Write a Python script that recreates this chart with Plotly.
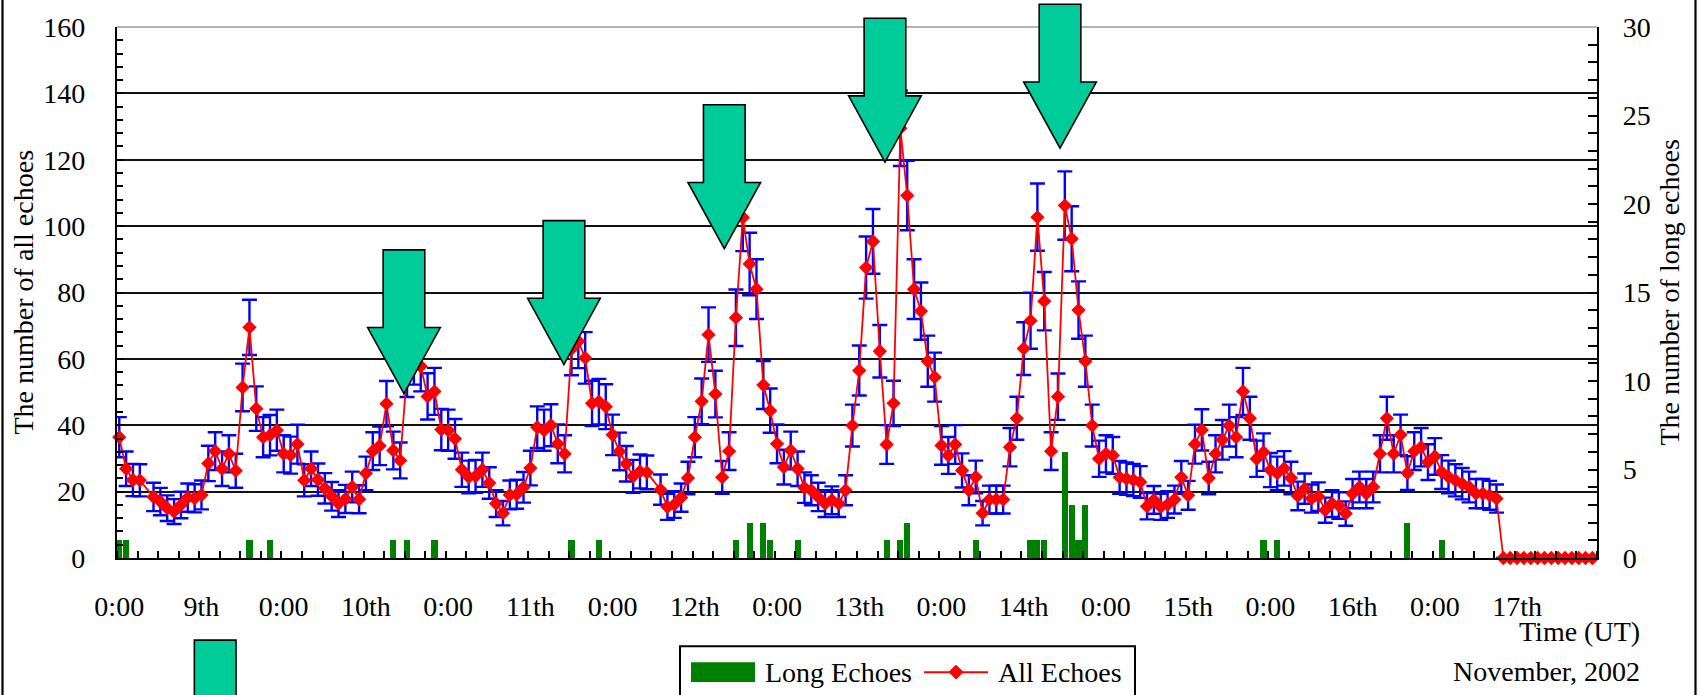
import numpy as np
import plotly.graph_objects as go

# ---------------- data (hourly, UT, November 2002) ----------------
day_names = ["9th", "10th", "11th", "12th", "13th", "14th", "15th", "16th", "17th"]

# number of all echoes per hour (None = no marker plotted)
nov09 = [36.4, 26.9, 23.5, 23.4, None, 18.4, 17.0, 15.0, 14.0, 16.0, 18.2, 18.0,
         19.0, 28.5, 32.2, 26.9, 31.4, 26.3, 51.4, 69.5, 45.0, 36.4, 37.0, 38.5]
nov10 = [31.4, 31.0, 34.3, 23.4, 26.9, 23.6, 21.0, 18.6, 16.4, 17.8, 21.4, 17.7,
         25.5, 32.2, 33.8, 46.5, 32.4, 29.4, 56.0, 60.0, 57.8, 48.7, 50.2, 38.7]
nov11 = [38.5, 35.9, 26.6, 24.4, 24.6, 26.6, 22.6, 16.4, 13.5, 19.0, 19.2, 21.3,
         27.1, 39.4, 38.5, 40.0, 34.4, 31.4, 63.0, 65.3, 60.3, 46.6, 47.1, 45.6]
nov12 = [37.1, 32.1, 28.4, 24.6, 26.1, 25.8, None, 20.6, 15.4, 16.1, 18.2, 24.1,
         36.4, 47.2, 67.3, 49.4, 24.3, 32.2, 72.4, 102.6, 88.6, 81.0, 52.1, 44.4]
nov13 = [34.4, 27.4, 32.4, 26.9, 21.2, 20.4, 18.4, 16.4, 17.4, 16.4, 20.4, 39.9,
         56.5, 87.5, 95.4, 62.3, 34.2, 46.6, 129.5, 109.2, 81.0, 74.4, 59.3, 54.5]
nov14 = [33.9, 30.9, 34.2, 26.4, 20.4, 24.4, 13.5, 17.6, 17.6, 17.6, 33.4, 42.1,
         63.1, 71.5, 102.7, 77.4, 32.2, 48.6, 106.2, 96.2, 74.7, 59.3, 39.9, 29.9]
nov15 = [31.4, 30.9, 24.3, 23.9, 23.5, 22.9, 15.6, 17.5, 15.4, 16.1, 17.6, 24.3,
         18.9, 34.3, 38.6, 24.1, 31.4, 35.6, 39.9, 36.4, 50.2, 42.1, 29.9, 31.9]
nov16 = [26.5, 25.5, 27.0, 24.1, 18.7, 20.9, 17.9, 18.5, 14.4, 16.4, 15.8, 13.4,
         19.4, 21.4, 19.4, 21.4, 31.4, 42.1, 31.4, 37.1, 25.6, 32.2, 33.4, 28.9]
nov17 = [30.6, 25.9, 24.4, 23.4, 22.4, 21.4, 19.4, 19.4, 18.9, 17.9, 0, 0,
         0, 0, 0, 0, 0, 0, 0, 0, 0, 0, 0, 0]

# number of long echoes per hour
long09 = [1, 1, 0, 0, 0, 0, 0, 0, 0, 0, 0, 0, 0, 0, 0, 0, 0, 0, 0, 1, 0, 0, 1, 0]
long10 = [0, 0, 0, 0, 0, 0, 0, 0, 0, 0, 0, 0, 0, 0, 0, 0, 1, 0, 1, 0, 0, 0, 1, 0]
long11 = [0, 0, 0, 0, 0, 0, 0, 0, 0, 0, 0, 0, 0, 0, 0, 0, 0, 0, 1, 0, 0, 0, 1, 0]
long12 = [0, 0, 0, 0, 0, 0, 0, 0, 0, 0, 0, 0, 0, 0, 0, 0, 0, 0, 1, 0, 2, 0, 2, 1]
long13 = [0, 0, 0, 1, 0, 0, 0, 0, 0, 0, 0, 0, 0, 0, 0, 0, 1, 0, 1, 2, 0, 0, 0, 0]
long14 = [0, 0, 0, 0, 0, 1, 0, 0, 0, 0, 0, 0, 0, 1, 1, 1, 0, 0, 6, 3, 1, 3, 0, 0]
long15 = [0, 0, 0, 0, 0, 0, 0, 0, 0, 0, 0, 0, 0, 0, 0, 0, 0, 0, 0, 0, 0, 0, 0, 1]
long16 = [0, 1, 0, 0, 0, 0, 0, 0, 0, 0, 0, 0, 0, 0, 0, 0, 0, 0, 0, 0, 2, 0, 0, 0]
long17 = [0, 1, 0, 0, 0, 0, 0, 0, 0, 0, 0, 0, 0, 0, 0, 0, 0, 0, 0, 0, 0, 0, 0, 0]

all_echoes = nov09 + nov10 + nov11 + nov12 + nov13 + nov14 + nov15 + nov16 + nov17
long_echoes = long09 + long10 + long11 + long12 + long13 + long14 + long15 + long16 + long17
hours = list(range(len(all_echoes)))
# Poisson counting error of each hourly count
err = [None if v is None else float(np.sqrt(v)) for v in all_echoes]

tick_hours = list(range(0, 216, 12))
tick_text = []
for d in day_names:
    tick_text += ["0:00", d]

# arrows: tip position (hour, number of all echoes)
arrow_tips = [(41.55, 49.5), (64.9, 58.3), (88.3, 93.2), (111.75, 119.3), (137.3, 123.5), (14.0, -68.1)]

# ---------------- layout geometry ----------------
W, H = 1700, 695
ML, MR, MT, MB = 117, 103, 23, 137
PW, PH = W - ML - MR, H - MT - MB
X0, X1 = -0.33, 215.67
YMAX, Y2MAX = 160, 30

def px2paper_x(px):
    return (px - ML) / PW

def px2paper_y(py):
    return (H - MB - py) / PH

def data2paper(h, v):
    return (h - X0) / (X1 - X0), v / YMAX

FONT = "Liberation Serif, Times New Roman, serif"
FS = 28
ARROW_FILL = "#00CC99"

fig = go.Figure()

fig.add_trace(go.Bar(
    x=hours, y=long_echoes, yaxis="y2", name="Long Echoes",
    marker=dict(color="#008000", line=dict(width=0)), width=0.9,
    showlegend=False,
))

fig.add_trace(go.Scatter(
    x=hours, y=all_echoes, name="All Echoes", mode="lines+markers",
    line=dict(color="#FF0000", width=1.8),
    marker=dict(symbol="diamond", size=11, color="#FF0000"),
    error_y=dict(type="data", array=err, visible=True, color="#0000FF", thickness=2.4, width=7.5),
    connectgaps=True, cliponaxis=False, showlegend=False,
))

shapes = []
# top border of the plot area (light grey)
shapes.append(dict(type="line", xref="paper", yref="paper", x0=0, x1=1, y0=1, y1=1,
                   line=dict(color="#9a9a9a", width=1.5), layer="below"))

# arrows (in paper coords derived from data units)
HEAD_HALF, SHAFT_HALF, HEAD_H, SHAFT_L = 5.3, 3.04, 19.95, 23.4
for (h, v) in arrow_tips:
    xt, yt = data2paper(h, v)
    xhh = HEAD_HALF / (X1 - X0)
    xsh = SHAFT_HALF / (X1 - X0)
    yb = yt + HEAD_H / YMAX
    ytop = yb + SHAFT_L / YMAX
    path = (f"M {xt},{yt} L {xt - xhh},{yb} L {xt - xsh},{yb} L {xt - xsh},{ytop} "
            f"L {xt + xsh},{ytop} L {xt + xsh},{yb} L {xt + xhh},{yb} Z")
    shapes.append(dict(type="path", path=path, xref="paper", yref="paper",
                       fillcolor=ARROW_FILL, line=dict(color="black", width=1.6), layer="above"))

# outer frame lines (left and right)
for px in (2.5, 1695.5):
    shapes.append(dict(type="line", xref="paper", yref="paper",
                       x0=px2paper_x(px), x1=px2paper_x(px), y0=px2paper_y(-5), y1=px2paper_y(700),
                       line=dict(color="black", width=2.2)))

# custom legend
shapes.append(dict(type="rect", xref="paper", yref="paper",
                   x0=px2paper_x(680), x1=px2paper_x(1135), y0=px2paper_y(647), y1=px2paper_y(710),
                   line=dict(color="black", width=2), fillcolor="white"))
shapes.append(dict(type="rect", xref="paper", yref="paper",
                   x0=px2paper_x(691), x1=px2paper_x(755), y0=px2paper_y(663), y1=px2paper_y(683),
                   line=dict(width=0), fillcolor="#008000"))
shapes.append(dict(type="line", xref="paper", yref="paper",
                   x0=px2paper_x(924), x1=px2paper_x(988), y0=px2paper_y(673), y1=px2paper_y(673),
                   line=dict(color="#FF0000", width=2)))
dx, dy = 7 / PW, 7 / PH
cx, cy = px2paper_x(956), px2paper_y(673)
shapes.append(dict(type="path", xref="paper", yref="paper",
                   path=f"M {cx},{cy + dy} L {cx + dx},{cy} L {cx},{cy - dy} L {cx - dx},{cy} Z",
                   fillcolor="#FF0000", line=dict(color="#FF0000", width=1)))

annotations = [
    dict(text="Long Echoes", x=px2paper_x(763), y=px2paper_y(673), xref="paper", yref="paper",
         xanchor="left", yanchor="middle", showarrow=False, font=dict(family=FONT, size=FS, color="black")),
    dict(text="All Echoes", x=px2paper_x(996), y=px2paper_y(673), xref="paper", yref="paper",
         xanchor="left", yanchor="middle", showarrow=False, font=dict(family=FONT, size=FS, color="black")),
    dict(text="Time (UT)", x=px2paper_x(1642), y=px2paper_y(632), xref="paper", yref="paper",
         xanchor="right", yanchor="middle", showarrow=False, font=dict(family=FONT, size=FS, color="black")),
    dict(text="November, 2002", x=px2paper_x(1642), y=px2paper_y(672), xref="paper", yref="paper",
         xanchor="right", yanchor="middle", showarrow=False, font=dict(family=FONT, size=FS, color="black")),
    dict(text="The number of all echoes", x=px2paper_x(23), y=0.5, xref="paper", yref="paper",
         textangle=-90, xanchor="center", yanchor="middle", showarrow=False,
         font=dict(family=FONT, size=FS, color="black")),
    dict(text="The number of long echoes", x=px2paper_x(1669), y=0.5, xref="paper", yref="paper",
         textangle=-90, xanchor="center", yanchor="middle", showarrow=False,
         font=dict(family=FONT, size=FS, color="black")),
]

tickfont = dict(family=FONT, size=FS, color="black")

fig.update_layout(
    width=W, height=H,
    margin=dict(l=ML, r=MR, t=MT, b=MB, pad=0),
    paper_bgcolor="white", plot_bgcolor="white",
    showlegend=False, bargap=0,
    xaxis=dict(range=[X0, X1], tickmode="array", tickvals=tick_hours, ticktext=tick_text,
               ticks="", showline=True, linecolor="black", linewidth=2.2, showgrid=False,
               zeroline=False, tickfont=tickfont, ticklabelstandoff=22,
               minor=dict(ticks="inside", tick0=X0, dtick=3, ticklen=7, tickcolor="black",
                          tickwidth=1.6, showgrid=False)),
    yaxis=dict(range=[0, YMAX], tick0=0, dtick=20, ticks="inside", ticklen=7, tickwidth=1.6,
               tickcolor="black", showgrid=True, gridcolor="#111111", gridwidth=2,
               showline=True, linecolor="black", linewidth=2.2, zeroline=False,
               tickfont=tickfont, ticklabelstandoff=24,
               minor=dict(ticks="inside", dtick=4, ticklen=6, tickcolor="black", tickwidth=1.6,
                          showgrid=False)),
    yaxis2=dict(range=[0, Y2MAX], overlaying="y", side="right", tick0=0, dtick=5,
                ticks="inside", ticklen=9, tickwidth=1.6, tickcolor="black",
                showgrid=False, showline=True, linecolor="black", linewidth=2.2, zeroline=False,
                tickfont=tickfont, ticklabelstandoff=18,
                minor=dict(ticks="inside", dtick=1, ticklen=9, tickcolor="black", tickwidth=1.6)),
    shapes=shapes,
    annotations=annotations,
)

fig.write_html("out.html")
